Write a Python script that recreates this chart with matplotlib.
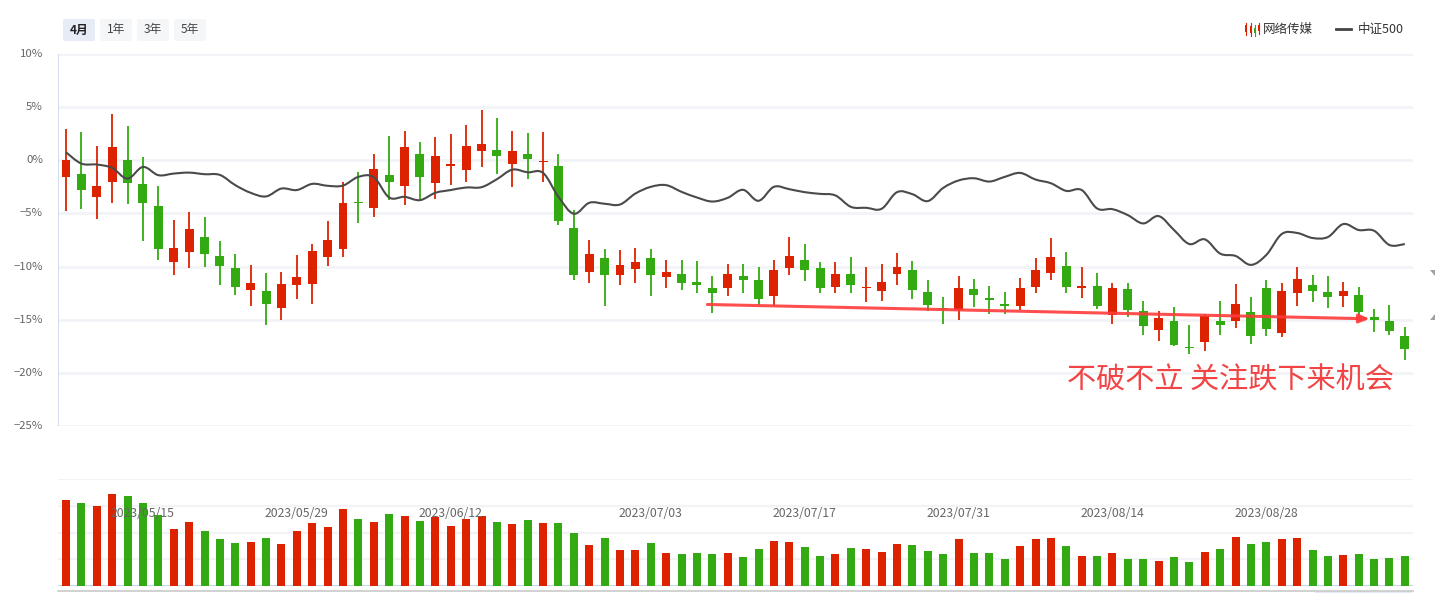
import matplotlib
matplotlib.use('Agg')
import matplotlib.pyplot as plt
from matplotlib.patches import FancyBboxPatch, Rectangle, Polygon, PathPatch
from matplotlib.path import Path
from matplotlib.lines import Line2D
import pandas as pd

plt.rcParams['font.family'] = ['Noto Sans CJK SC', 'DejaVu Sans']

# ---------------- data ----------------
holidays = ['2023-06-22', '2023-06-23']
trade_dates = [d.strftime('%Y/%m/%d') for d in pd.bdate_range('2023-05-08', '2023-09-08')
               if d.strftime('%Y-%m-%d') not in holidays]

open_ = [-1.56, -1.25, -3.44, -2.03, 0.0, -2.19, -4.31, -9.53, -8.59, -7.25,
         -9.0, -10.16, -12.25, -12.28, -13.94, -11.78, -11.6, -9.06, -8.31, -3.94,
         -4.47, -1.4, -2.4, 0.56, -2.13, -0.5, -0.9, 0.88, 1.0, -0.34,
         0.63, -0.16, -0.56, -6.41, -10.47, -9.22, -10.84, -10.19, -9.22, -10.94,
         -10.69, -11.44, -12.0, -11.97, -10.88, -11.25, -12.8, -10.09, -9.38, -10.13,
         -11.88, -10.69, -12.06, -12.34, -10.66, -10.31, -12.38, -13.88, -14.13, -12.09,
         -12.94, -13.5, -13.75, -11.88, -10.56, -9.94, -12.0, -11.81, -14.56, -12.09,
         -14.16, -16.0, -15.1, -17.53, -17.13, -15.1, -15.16, -14.25, -12.0, -16.28,
         -12.44, -11.72, -12.38, -12.8, -12.66, -14.7, -15.1, -16.5]
close = [0.0, -2.78, -2.38, 1.22, -2.13, -4.0, -8.34, -8.28, -6.47, -8.78,
         -9.9, -11.88, -11.53, -13.56, -11.63, -10.97, -8.53, -7.5, -4.0, -4.06,
         -0.84, -2.03, 1.22, -1.56, 0.38, -0.38, 1.31, 1.56, 0.41, 0.9,
         0.13, -0.03, -5.69, -10.75, -8.81, -10.75, -9.84, -9.56, -10.75, -10.5,
         -11.5, -11.78, -12.44, -10.69, -11.31, -13.09, -10.31, -9.0, -10.28, -11.97,
         -10.69, -11.69, -11.9, -11.44, -10.03, -12.16, -13.66, -14.0, -12.0, -12.72,
         -13.1, -13.75, -12.0, -10.31, -9.09, -11.88, -11.9, -13.75, -12.0, -14.13,
         -15.63, -14.8, -17.34, -17.66, -14.63, -15.53, -13.5, -16.56, -15.9, -12.28,
         -11.16, -12.34, -12.9, -12.28, -14.31, -15.0, -16.1, -17.78]
high = [2.9, 2.7, 1.38, 4.38, 3.19, 0.28, -2.44, -5.63, -4.88, -5.38,
        -7.6, -8.8, -9.84, -10.6, -10.5, -8.9, -7.88, -5.72, -2.06, -1.13,
        0.56, 2.25, 2.8, 1.75, 2.16, 2.44, 3.28, 4.69, 3.94, 2.78,
        2.6, 2.69, 0.63, -4.72, -7.5, -8.34, -8.44, -8.25, -8.34, -9.38,
        -9.38, -9.47, -10.88, -9.75, -9.75, -10.03, -9.38, -7.22, -7.88, -9.56,
        -9.56, -9.09, -10.03, -9.75, -8.72, -9.47, -11.25, -12.84, -10.88, -11.16,
        -11.81, -12.38, -11.06, -9.19, -7.31, -8.63, -10.03, -10.59, -11.53, -11.53,
        -13.22, -14.16, -13.78, -15.47, -14.44, -13.22, -11.63, -12.84, -11.25, -11.53,
        -10.03, -10.78, -10.88, -11.44, -11.9, -13.97, -13.6, -15.72]
low = [-4.75, -4.56, -5.5, -4.0, -4.09, -7.56, -9.38, -10.84, -10.09, -10.0,
       -11.69, -12.7, -13.75, -15.53, -15.06, -13.03, -13.56, -9.9, -9.06, -5.94,
       -5.31, -3.75, -4.19, -3.66, -3.66, -2.28, -2.03, -0.63, -1.28, -2.5,
       -1.75, -2.03, -6.06, -11.3, -11.5, -13.75, -11.69, -11.5, -12.8, -11.97,
       -12.16, -12.44, -14.4, -12.8, -12.53, -13.66, -13.69, -10.84, -11.4, -12.44,
       -12.44, -12.53, -13.38, -13.28, -11.78, -13.09, -14.22, -15.44, -15.06, -13.84,
       -14.5, -14.5, -14.06, -12.44, -11.25, -12.44, -13.0, -14.03, -15.44, -14.78,
       -16.47, -17.03, -17.44, -18.25, -17.97, -16.47, -15.8, -17.31, -16.56, -16.63,
       -13.69, -13.38, -13.94, -13.84, -14.78, -16.19, -16.47, -18.8]
csi500 = [0.75, -0.31, -0.4, -0.72, -1.72, -0.63, -1.4, -1.25, -1.16, -1.31,
          -1.38, -2.34, -3.06, -3.4, -2.66, -2.8, -2.22, -2.4, -2.38, -1.56,
          -1.6, -3.5, -3.44, -3.75, -3.06, -2.8, -2.56, -2.53, -1.78, -0.88,
          -1.13, -1.19, -3.44, -5.03, -4.0, -4.09, -4.16, -3.13, -2.5, -2.34,
          -2.97, -3.5, -3.88, -3.53, -2.78, -3.81, -2.5, -2.72, -3.0, -3.16,
          -3.31, -4.38, -4.47, -4.56, -3.0, -3.19, -3.84, -2.6, -1.9, -1.69,
          -2.0, -1.56, -1.19, -1.81, -2.16, -2.88, -2.8, -4.53, -4.6, -5.16,
          -5.94, -5.25, -6.56, -7.88, -7.44, -8.78, -9.0, -9.84, -8.9, -6.94,
          -6.84, -7.31, -7.22, -6.0, -6.56, -6.63, -7.97, -7.88]
volume = [3.23, 3.11, 3.0, 3.45, 3.38, 3.11, 2.66, 2.14, 2.4, 2.06,
          1.76, 1.61, 1.65, 1.8, 1.58, 2.06, 2.36, 2.21, 2.89, 2.51,
          2.4, 2.7, 2.63, 2.44, 2.59, 2.25, 2.51, 2.63, 2.4, 2.33,
          2.48, 2.36, 2.36, 1.99, 1.54, 1.8, 1.35, 1.35, 1.61, 1.24,
          1.2, 1.24, 1.2, 1.24, 1.09, 1.39, 1.69, 1.65, 1.46, 1.13,
          1.2, 1.43, 1.39, 1.28, 1.58, 1.54, 1.31, 1.2, 1.76, 1.24,
          1.24, 1.01, 1.5, 1.76, 1.8, 1.5, 1.13, 1.13, 1.24, 1.01,
          1.01, 0.94, 1.09, 0.9, 1.28, 1.39, 1.84, 1.58, 1.65, 1.76,
          1.8, 1.35, 1.13, 1.16, 1.2, 1.01, 1.05, 1.13]

y_ticks = [10, 5, 0, -5, -10, -15, -20, -25]
y_tick_labels = ['10%', '5%', '0%', '\u22125%', '\u221210%', '\u221215%', '\u221220%', '\u221225%']
date_ticks = ['2023/05/15', '2023/05/29', '2023/06/12', '2023/07/03',
              '2023/07/17', '2023/07/31', '2023/08/14', '2023/08/28']
period_buttons = ['4月', '1年', '3年', '5年']
legend_names = ['网络传媒', '中证500']
note_text = '不破不立 关注跌下来机会'

# ---------------- style ----------------
RED = '#dd2200'
GREEN = '#33aa11'
GRID = '#f1f3f7'
LABEL = '#666666'
W, H = 1435, 593

fig = plt.figure(figsize=(W / 100, H / 100), dpi=100)
fig.patch.set_facecolor('white')


def fx(px):
    return px / W


def fy(py):
    return 1 - py / H


def smooth_path(xv, yv, s=0.35):
    """Cubic Bezier path through the given points (rendering style only)."""
    verts = [(xv[0], yv[0])]
    codes = [Path.MOVETO]
    m = len(xv)
    for i in range(m - 1):
        xp, yp = (xv[i - 1], yv[i - 1]) if i > 0 else (xv[i], yv[i])
        xn2, yn2 = (xv[i + 2], yv[i + 2]) if i + 2 < m else (xv[i + 1], yv[i + 1])
        c1 = (xv[i] + (xv[i + 1] - xp) * s / 2, yv[i] + (yv[i + 1] - yp) * s / 2)
        c2 = (xv[i + 1] - (xn2 - xv[i]) * s / 2, yv[i + 1] - (yn2 - yv[i]) * s / 2)
        verts += [c1, c2, (xv[i + 1], yv[i + 1])]
        codes += [Path.CURVE4] * 3
    return Path(verts, codes)


XL, XR = 58, 1413
n = len(open_)
x0 = -0.52
x1 = 87.53

# main candle axes
ax = fig.add_axes([fx(XL), fy(426), fx(XR - XL), (426 - 54) / H])
ax.set_xlim(x0, x1)
ax.set_ylim(-25, 10)
for s in ax.spines.values():
    s.set_visible(False)
ax.set_xticks([])
ax.set_yticks([])
for t in y_ticks:
    ax.axhline(t, color=GRID, lw=2, zorder=0)
ax.axvline(x0, color='#ccd6eb', lw=1.2, zorder=1)

xs = list(range(n))
colors = [RED if c >= o else GREEN for o, c in zip(open_, close)]
bottoms = [min(o, c) for o, c in zip(open_, close)]
heights = [max(abs(c - o), 0.13) for o, c in zip(open_, close)]
ax.vlines(xs, low, high, colors=colors, lw=1.3, zorder=2)
ax.bar(xs, heights, bottom=bottoms, width=0.58, color=colors, zorder=3, linewidth=0)
ax.add_patch(PathPatch(smooth_path(xs, csi500), fc='none', ec='#4a4a4a', lw=1.5, zorder=4))

for t, lab in zip(y_ticks, y_tick_labels):
    ax.text(-0.011, t, lab, transform=ax.get_yaxis_transform(), ha='right', va='center',
            fontsize=8.2, color=LABEL)

# red arrow annotation
ax.annotate('', xy=(84.9, -14.92), xytext=(41.5, -13.56),
            arrowprops=dict(arrowstyle='-|>,head_length=0.6,head_width=0.25',
                            color='#ff3b3b', lw=2.2, alpha=0.9), zorder=6)
fig.text(fx(1067), fy(380), note_text, fontsize=21, color='#f24444', ha='left', va='center')

# small grey markers at the right edge
fig.add_artist(Polygon([(fx(1430), fy(270)), (fx(1435), fy(270)), (fx(1435), fy(276))],
                       closed=True, color='#a0a0a0', lw=0))
fig.add_artist(Polygon([(fx(1430), fy(320)), (fx(1435), fy(320)), (fx(1435), fy(314))],
                       closed=True, color='#a0a0a0', lw=0))

# volume axes
vax = fig.add_axes([fx(XL), fy(586), fx(XR - XL), (586 - 479.3) / H])
vax.set_xlim(x0, x1)
vax.set_ylim(0, 4)
for s in vax.spines.values():
    s.set_visible(False)
vax.set_xticks([])
vax.set_yticks([])
for t in [1, 2, 3, 4]:
    vax.axhline(t, color=GRID, lw=1.6, zorder=0)
vax.axhline(0, color='#ccd6eb', lw=1.5, zorder=1)
vax.bar(xs, volume, width=0.52, color=colors, zorder=2, linewidth=0)
for d in date_ticks:
    i = trade_dates.index(d)
    vax.text(i, 2.7, d, ha='center', va='center', fontsize=8.8, color=LABEL, zorder=3)

# bottom slider line
fig.add_artist(Line2D([fx(XL), fx(XR)], [fy(591), fy(591)], color='#c9c9c9', lw=1.2))
fig.add_artist(Rectangle((fx(1315), fy(593)), fx(97), 2 / H, color='#e3e9f5', lw=0))

# period buttons
bx = [63, 100, 137, 174]
for k, (b, lab) in enumerate(zip(bx, period_buttons)):
    fc = '#e6ebf5' if k == 0 else '#f5f6f8'
    fig.add_artist(FancyBboxPatch((fx(b), fy(41)), fx(32), 22 / H,
                                  boxstyle='round,pad=0,rounding_size=0.002',
                                  fc=fc, ec='none'))
    fig.text(fx(b + 16), fy(30), lab, ha='center', va='center', fontsize=8.5,
             color='#222222' if k == 0 else '#444444',
             fontweight='bold' if k == 0 else 'normal')

# legend
for dx, col, top, bot, wt, wb in [(1246, RED, 25, 32, 23, 35), (1251, RED, 26, 33, 23, 36),
                                  (1255, GREEN, 28, 33, 25, 36), (1259, RED, 25, 31, 23, 34)]:
    fig.add_artist(Line2D([fx(dx), fx(dx)], [fy(wb), fy(wt)], color=col, lw=0.8))
    fig.add_artist(Rectangle((fx(dx - 1.3), fy(bot)), fx(2.6), (bot - top) / H, color=col, lw=0))
fig.text(fx(1263), fy(29), legend_names[0], ha='left', va='center', fontsize=9, color='#333333')
fig.add_artist(Line2D([fx(1336), fx(1351)], [fy(29), fy(29)], color='#444444', lw=2))
fig.text(fx(1358), fy(29), legend_names[1], ha='left', va='center', fontsize=9, color='#333333')

fig.savefig('out.png', dpi=100)
